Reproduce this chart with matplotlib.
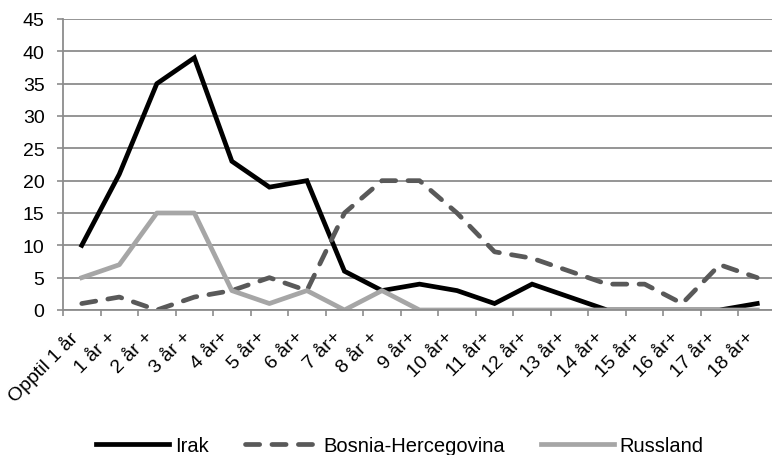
import matplotlib
matplotlib.use("Agg")
import matplotlib.pyplot as plt
import numpy as np

plt.rcParams['font.family'] = ['Liberation Sans', 'DejaVu Sans']

categories = ["Opptil 1 år", "1 år +", "2 år +", "3 år +", "4 år+", "5 år+", "6 år+",
              "7 år+", "8 år +", "9 år+", "10 år+", "11 år+", "12 år+", "13 år+",
              "14 år+", "15 år+", "16 år+", "17 år+", "18 år+"]
irak = [10, 21, 35, 39, 23, 19, 20, 6, 3, 4, 3, 1, 4, 2, 0, 0, 0, 0, 1]
bosnia = [1, 2, 0, 2, 3, 5, 3, 15, 20, 20, 15, 9, 8, 6, 4, 4, 1, 7, 5]
russland = [5, 7, 15, 15, 3, 1, 3, 0, 3, 0, 0, 0, 0, 0, 0, 0, 0, 0, 0]
series_names = ["Irak", "Bosnia-Hercegovina", "Russland"]

fig = plt.figure(figsize=(7.72, 4.56), dpi=100)
ax = fig.add_axes([63/772, 1-311/456, (776-63)/772, (311-20)/456])

x = np.arange(len(categories))
ax.plot(x, irak, color='black', lw=3.4, solid_joinstyle='miter', label=series_names[0])
ax.plot(x, bosnia, color='#595959', lw=3.4, dashes=(3.0, 2.6), dash_capstyle='round',
        label=series_names[1])
ax.plot(x, russland, color='#a6a6a6', lw=3.4, label=series_names[2])

ax.set_xlim(-0.5, len(categories) - 0.5)
ax.set_ylim(0, 45)
ax.set_yticks(np.arange(0, 46, 5))
ax.yaxis.grid(True, color='#8c8c8c', lw=1.3)
ax.set_axisbelow(True)

ax.set_xticks(np.arange(-0.5, len(categories), 1))
ax.set_xticklabels([])
ax.set_xticks(x, minor=True)
ax.set_xticklabels(categories, minor=True, rotation=45, ha='right', va='top',
                   fontsize=14)
ax.tick_params(axis='x', which='major', length=4.3, color='#8c8c8c', width=1.2)
ax.tick_params(axis='x', which='minor', length=0, pad=13)
ax.tick_params(axis='y', length=4.3, color='#8c8c8c', width=1.2, labelsize=14, pad=9)

for s in ['top', 'right']:
    ax.spines[s].set_visible(False)
for s in ['left', 'bottom']:
    ax.spines[s].set_color('#8c8c8c')
    ax.spines[s].set_linewidth(1.3)

fig.legend(loc='center', bbox_to_anchor=(400/772, 1-447/456), ncol=3, frameon=False,
           fontsize=14.5, handlelength=3.6, columnspacing=1.8, handletextpad=0.3,
           borderpad=0, borderaxespad=0)

fig.savefig("out.png", dpi=100)
